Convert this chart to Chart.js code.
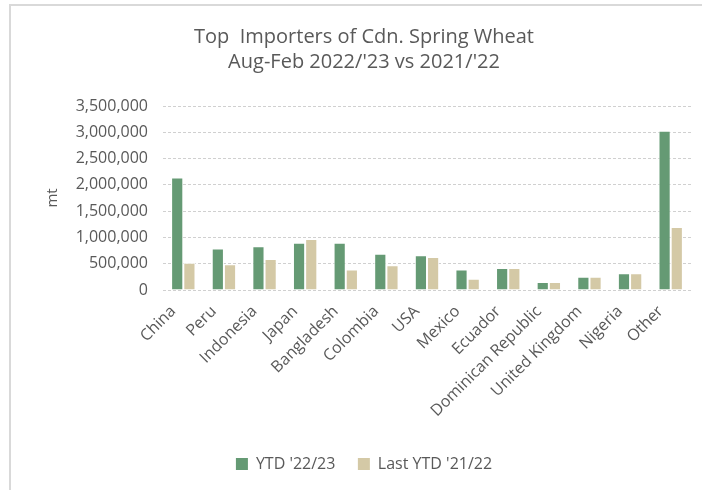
<!DOCTYPE html>
<html>
<head>
<meta charset="utf-8">
<script src="https://cdn.jsdelivr.net/npm/chart.js@4"></script>
<style>
  html, body { margin: 0; padding: 0; background: #fff; }
  #wrap { position: relative; width: 702px; height: 490px; overflow: hidden; }
  #frame { position: absolute; left: 9px; top: 4px; width: 720px; height: 520px; border-left: 2px solid #d9d9d9; border-top: 2px solid #d9d9d9; box-sizing: border-box; }
  canvas { position: absolute; left: 0; top: 0; }
</style>
</head>
<body>
<div id="wrap">
  <div id="frame"></div>
  <canvas id="c" width="702" height="490"></canvas>
</div>
<script>
const categories = ["China", "Peru", "Indonesia", "Japan", "Bangladesh", "Colombia", "USA", "Mexico", "Ecuador", "Dominican Republic", "United Kingdom", "Nigeria", "Other"];
const ytd2223 = [2140000, 790000, 830000, 900000, 900000, 690000, 660000, 390000, 420000, 150000, 250000, 320000, 3030000];
const ytd2122 = [520000, 490000, 590000, 970000, 390000, 470000, 630000, 215000, 420000, 150000, 250000, 320000, 1200000];
const seriesNames = ["YTD '22/23", "Last YTD '21/22"];
const titleLines = ["Top  Importers of Cdn. Spring Wheat", "Aug-Feb 2022/'23 vs 2021/'22"];
const yMax = 3500000;
const yStep = 500000;

const FONT = "'Open Sans', Lato, sans-serif";
const TXT = "#595959";

new Chart(document.getElementById("c"), {
  type: "bar",
  data: {
    labels: categories,
    datasets: [
      { label: seriesNames[0], data: ytd2223, backgroundColor: "#659a74", borderColor: "#ffffff", borderWidth: 1 },
      { label: seriesNames[1], data: ytd2122, backgroundColor: "#d4c9a6", borderColor: "#ffffff", borderWidth: 1 }
    ]
  },
  options: {
    responsive: false,
    animation: false,
    layout: { padding: { left: 26, right: 0, top: 0, bottom: 8 } },
    datasets: { bar: { categoryPercentage: 0.6, barPercentage: 1.0 } },
    plugins: {
      title: {
        display: true,
        text: titleLines,
        color: TXT,
        font: { family: FONT, size: 20, weight: "normal", lineHeight: 25 / 20 },
        padding: { top: 25, bottom: 31 }
      },
      legend: {
        position: "bottom",
        labels: {
          color: TXT,
          font: { family: FONT, size: 16 },
          boxWidth: 12,
          boxHeight: 12,
          padding: 10,
          generateLabels: (chart) => {
            const items = Chart.defaults.plugins.legend.labels.generateLabels(chart);
            items.forEach((it, i) => { it.lineWidth = 0; if (i === 0) it.text = it.text + "   "; });
            return items;
          }
        }
      },
      tooltip: { enabled: false }
    },
    scales: {
      x: {
        grid: { display: false },
        border: { display: false },
        ticks: { color: TXT, font: { family: FONT, size: 16 }, minRotation: 45, maxRotation: 45, autoSkip: false, padding: 4, labelOffset: -10 },
        afterFit: (s) => { s.height = 156; }
      },
      y: {
        min: 0,
        max: yMax,
        border: { display: false, dash: [3, 2] },
        grid: { color: "#d0d0d0", drawTicks: false, lineWidth: 1 },
        ticks: { stepSize: yStep, color: TXT, font: { family: FONT, size: 16 }, padding: 15,
          callback: (v) => v.toLocaleString("en-US") },
        title: { display: true, text: "mt", color: TXT, font: { family: FONT, size: 15 }, padding: { top: 18, bottom: 0 } },
        afterFit: (s) => { s.width = 137; }
      },
      y2: {
        position: "right",
        display: true,
        grid: { display: false },
        border: { display: false },
        ticks: { display: false },
        afterFit: (s) => { s.width = 11; }
      }
    }
  }
});
</script>
</body>
</html>
